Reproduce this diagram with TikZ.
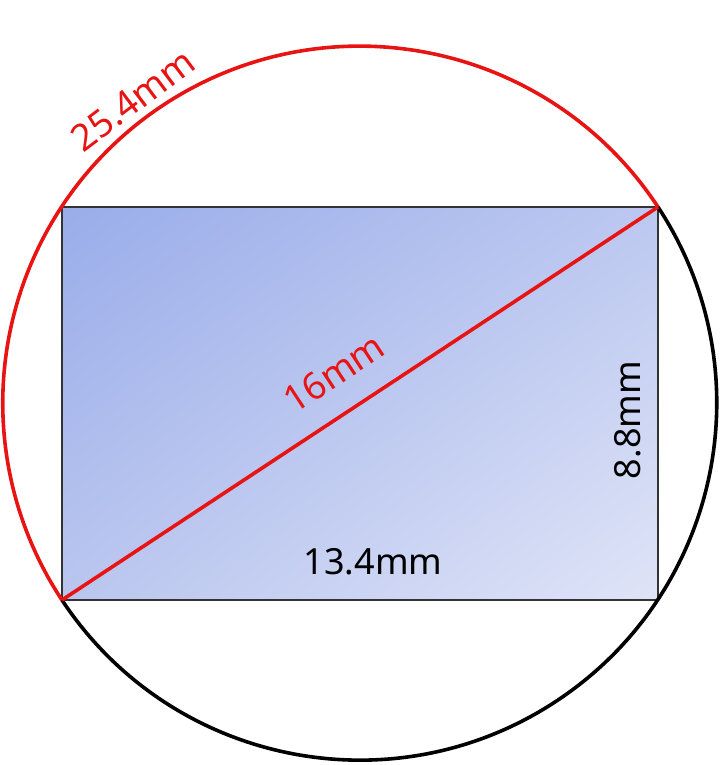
\documentclass[tikz,border=0pt]{standalone}
\usepackage{fontspec}
\setmainfont{Noto Sans}
\usetikzlibrary{shadings}
\definecolor{myred}{HTML}{E81414}
\definecolor{gTL}{HTML}{9AADEA}
\definecolor{gTR}{HTML}{BCC8F0}
\definecolor{gBL}{HTML}{BAC6EF}
\definecolor{gBR}{HTML}{DFE4F7}
\tikzset{
  lbl/.style={inner sep=0pt, font=\fontsize{36}{40}\selectfont},
  redline/.style={draw=myred, line width=3.6pt},
  blackline/.style={draw=black, line width=3.6pt},
}
\begin{document}
\begin{tikzpicture}[x=1pt,y=1pt]
\useasboundingbox (0,0) rectangle (720,765);
\coordinate (C) at (360,362);
\coordinate (TL) at (62,558);
\coordinate (TR) at (658,558);
\coordinate (BL) at (62,165);
\coordinate (BR) at (658,165);
\shade[upper left=gTL, upper right=gTR, lower left=gBL, lower right=gBR] (BL) rectangle (TR);
\draw[line width=1.4pt, black!80] (BL) rectangle (TR);
\draw[blackline] (TR) arc[start angle=33.33, end angle=-146.53, radius=357];
\draw[redline] (TR) arc[start angle=33.33, end angle=213.47, radius=357];
\draw[redline] (BL) -- (TR);
\node[lbl, text=black] (w) at (373,203) {13.4mm};
\node[lbl, text=black, rotate=90] (h) at (628,345) {8.8mm};
\node[lbl, text=myred, font=\fontsize{37}{40}\selectfont, rotate=33.4] (d) at (334,392) {16mm};
\node[lbl, text=myred, font=\fontsize{37}{40}\selectfont, rotate=37] (c) at (133,665) {25.4mm};
\end{tikzpicture}
\end{document}
